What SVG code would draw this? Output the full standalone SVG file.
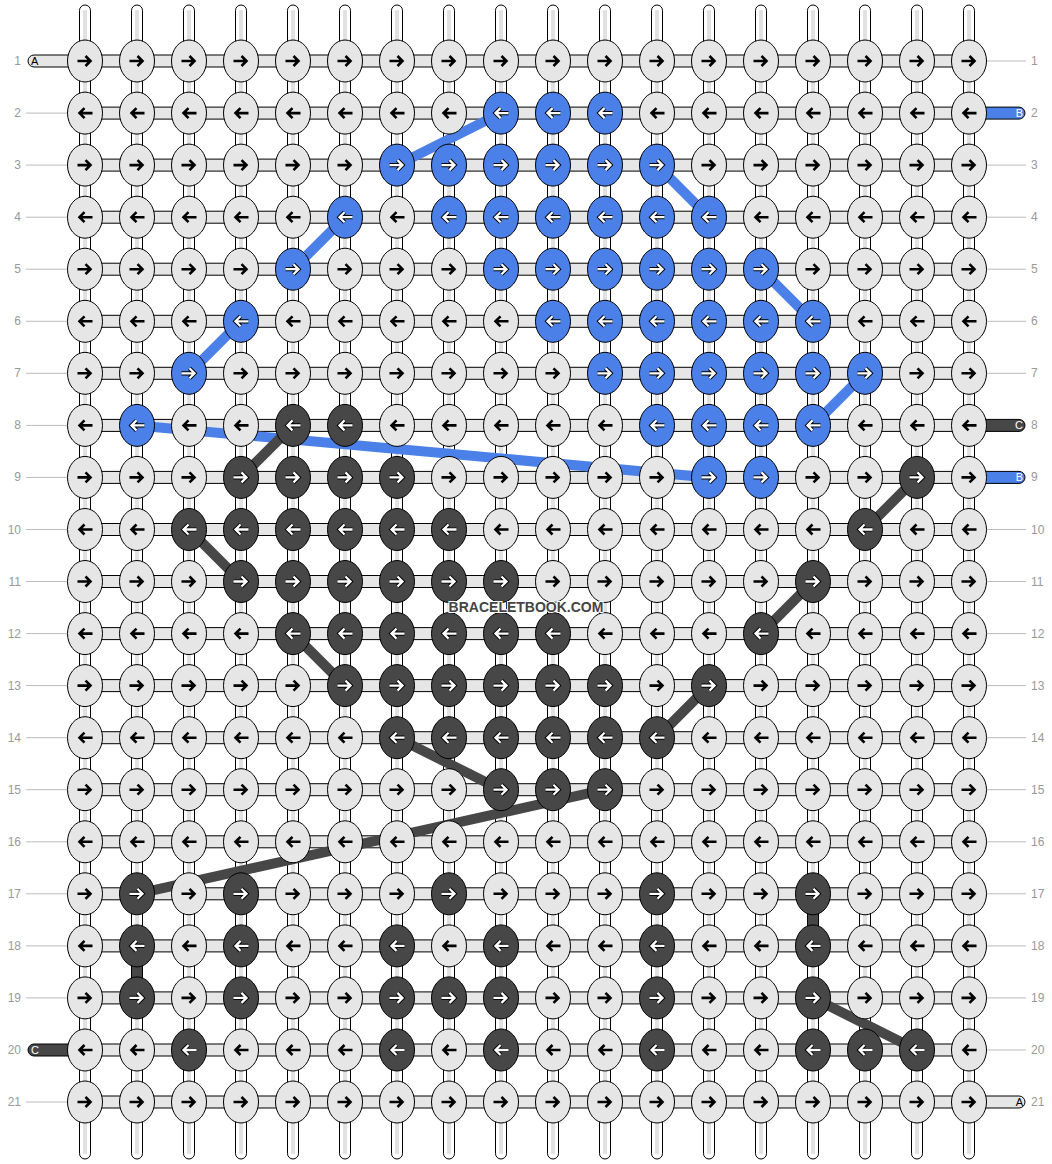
<svg xmlns="http://www.w3.org/2000/svg" xmlns:xlink="http://www.w3.org/1999/xlink" width="1052" height="1164" viewBox="0 0 1052 1164">
<style>
.vs{fill:#fff;stroke:#000;stroke-width:1}
.vc{stroke:#c4c4c4;stroke-width:1;fill:none}
.hs{fill:#e6e6e6;stroke:#000;stroke-width:1}
.gl{stroke:#bbb;stroke-width:1}
.lb{font-family:"Liberation Sans",Arial,sans-serif;font-size:12px;fill:#999}
.tg{fill:#e6e6e6;stroke:#000;stroke-width:1}
.tb{fill:#4a80e8;stroke:#000;stroke-width:1}
.td{fill:#474747;stroke:#000;stroke-width:1}
.tt{font-family:"Liberation Sans",Arial,sans-serif;font-size:11px}
.L{fill:#e6e6e6;stroke:#000;stroke-width:1}
.B{fill:#4a80e8;stroke:#000;stroke-width:1}
.D{fill:#474747;stroke:#000;stroke-width:1}
.ak{fill:none;stroke:#000;stroke-width:2.6}
.ao{fill:none;stroke:#000;stroke-width:4.2}
.aw{fill:none;stroke:#fff;stroke-width:2.3}
.thb{stroke:#4a80e8;stroke-width:10;fill:none}
.thd{stroke:#474747;stroke-width:10;fill:none}
.wm{font-family:"Liberation Sans",Arial,sans-serif;font-size:14px;font-weight:bold;fill:#444;stroke:#fff;stroke-width:2;paint-order:stroke}
</style>
<defs>
<path id="r" class="ak" d="M-7.5,0H5.5M0.5,-5L5.5,0L0.5,5"/>
<path id="l" class="ak" d="M7.5,0H-5.5M-0.5,-5L-5.5,0L-0.5,5"/>
<g id="rw"><path class="ao" d="M-7.5,0H5.5M0.5,-5L5.5,0L0.5,5"/><path class="aw" d="M-7.5,0H5.5M0.5,-5L5.5,0L0.5,5"/></g>
<g id="lw"><path class="ao" d="M7.5,0H-5.5M-0.5,-5L-5.5,0L-0.5,5"/><path class="aw" d="M7.5,0H-5.5M-0.5,-5L-5.5,0L-0.5,5"/></g>
</defs>
<rect width="1052" height="1164" fill="#fff"/>
<g id="strings">
<g id="vertical">
<rect class="vs" x="79.5" y="5" width="11" height="1154" rx="5.5"/>
<rect class="vs" x="131.5" y="5" width="11" height="1154" rx="5.5"/>
<rect class="vs" x="183.5" y="5" width="11" height="1154" rx="5.5"/>
<rect class="vs" x="235.5" y="5" width="11" height="1154" rx="5.5"/>
<rect class="vs" x="287.5" y="5" width="11" height="1154" rx="5.5"/>
<rect class="vs" x="339.5" y="5" width="11" height="1154" rx="5.5"/>
<rect class="vs" x="391.5" y="5" width="11" height="1154" rx="5.5"/>
<rect class="vs" x="443.5" y="5" width="11" height="1154" rx="5.5"/>
<rect class="vs" x="495.5" y="5" width="11" height="1154" rx="5.5"/>
<rect class="vs" x="547.5" y="5" width="11" height="1154" rx="5.5"/>
<rect class="vs" x="599.5" y="5" width="11" height="1154" rx="5.5"/>
<rect class="vs" x="651.5" y="5" width="11" height="1154" rx="5.5"/>
<rect class="vs" x="703.5" y="5" width="11" height="1154" rx="5.5"/>
<rect class="vs" x="755.5" y="5" width="11" height="1154" rx="5.5"/>
<rect class="vs" x="807.5" y="5" width="11" height="1154" rx="5.5"/>
<rect class="vs" x="859.5" y="5" width="11" height="1154" rx="5.5"/>
<rect class="vs" x="911.5" y="5" width="11" height="1154" rx="5.5"/>
<rect class="vs" x="963.5" y="5" width="11" height="1154" rx="5.5"/>
<path class="vc" d="M84,10V1154M86,10V1154M136,10V1154M138,10V1154M188,10V1154M190,10V1154M240,10V1154M242,10V1154M292,10V1154M294,10V1154M344,10V1154M346,10V1154M396,10V1154M398,10V1154M448,10V1154M450,10V1154M500,10V1154M502,10V1154M552,10V1154M554,10V1154M604,10V1154M606,10V1154M656,10V1154M658,10V1154M708,10V1154M710,10V1154M760,10V1154M762,10V1154M812,10V1154M814,10V1154M864,10V1154M866,10V1154M916,10V1154M918,10V1154M968,10V1154M970,10V1154"/>
</g>
<g id="guides">
<path class="gl" d="M26,113.1H67M26,165.1H67M26,217.2H67M26,269.2H67M26,321.3H67M26,373.3H67M26,425.4H67M26,477.4H67M26,529.5H67M26,581.5H67M26,633.6H67M26,685.6H67M26,737.7H67M26,789.7H67M26,841.8H67M26,893.8H67M26,945.9H67M26,997.9H67M26,1102H67"/>
<path class="gl" d="M987,61H1026M987,165.1H1026M987,217.2H1026M987,269.2H1026M987,321.3H1026M987,373.3H1026M987,529.5H1026M987,581.5H1026M987,633.6H1026M987,685.6H1026M987,737.7H1026M987,789.7H1026M987,841.8H1026M987,893.8H1026M987,945.9H1026M987,997.9H1026M987,1050H1026"/>
</g>
<g id="horizontal">
<rect class="hs" x="85" y="55" width="884" height="12"/>
<rect class="hs" x="85" y="107.1" width="884" height="12"/>
<rect class="hs" x="85" y="159.1" width="884" height="12"/>
<rect class="hs" x="85" y="211.2" width="884" height="12"/>
<rect class="hs" x="85" y="263.2" width="884" height="12"/>
<rect class="hs" x="85" y="315.3" width="884" height="12"/>
<rect class="hs" x="85" y="367.3" width="884" height="12"/>
<rect class="hs" x="85" y="419.4" width="884" height="12"/>
<rect class="hs" x="85" y="471.4" width="884" height="12"/>
<rect class="hs" x="85" y="523.5" width="884" height="12"/>
<rect class="hs" x="85" y="575.5" width="884" height="12"/>
<rect class="hs" x="85" y="627.6" width="884" height="12"/>
<rect class="hs" x="85" y="679.6" width="884" height="12"/>
<rect class="hs" x="85" y="731.7" width="884" height="12"/>
<rect class="hs" x="85" y="783.7" width="884" height="12"/>
<rect class="hs" x="85" y="835.8" width="884" height="12"/>
<rect class="hs" x="85" y="887.8" width="884" height="12"/>
<rect class="hs" x="85" y="939.9" width="884" height="12"/>
<rect class="hs" x="85" y="991.9" width="884" height="12"/>
<rect class="hs" x="85" y="1044" width="884" height="12"/>
<rect class="hs" x="85" y="1096" width="884" height="12"/>
</g>
<g id="ends">
<g id="endA1"><rect class="tg" x="28" y="55" width="50" height="12" rx="6"/><text class="tt" x="31" y="65" fill="#000">A</text></g>
<g id="endC20"><rect class="td" x="28" y="1044" width="50" height="12" rx="6"/><text class="tt" x="31" y="1054" fill="#fff">C</text></g>
<g id="endB2"><rect class="tb" x="975" y="107.1" width="50" height="12" rx="6"/><text class="tt" x="1023" y="117" fill="#fff" text-anchor="end">B</text></g>
<g id="endC8"><rect class="td" x="975" y="419.4" width="50" height="12" rx="6"/><text class="tt" x="1023" y="429.4" fill="#fff" text-anchor="end">C</text></g>
<g id="endB9"><rect class="tb" x="975" y="471.4" width="50" height="12" rx="6"/><text class="tt" x="1023" y="481.4" fill="#fff" text-anchor="end">B</text></g>
<g id="endA21"><rect class="tg" x="975" y="1096" width="50" height="12" rx="6"/><text class="tt" x="1023" y="1106" fill="#000" text-anchor="end">A</text></g>
</g>
</g>
<g id="connectors">
<path class="thb" d="M501,113.1L397,165.1M657,165.1L709,217.2M345,217.2L293,269.2M761,269.2L813,321.3M241,321.3L189,373.3M865,373.3L813,425.4M137,425.4L709,477.4"/>
<path class="thd" d="M293,425.4L241,477.4M917,477.4L865,529.5M189,529.5L241,581.5M813,581.5L761,633.6M293,633.6L345,685.6M709,685.6L657,737.7M397,737.7L501,789.7M605,789.7L137,893.8M137,945.9L137,997.9M813,893.8L813,945.9M813,997.9L917,1050"/>
</g>
<g id="labels">
<text class="lb" x="21" y="65" text-anchor="end">1</text>
<text class="lb" x="21" y="117.1" text-anchor="end">2</text>
<text class="lb" x="21" y="169.1" text-anchor="end">3</text>
<text class="lb" x="21" y="221.2" text-anchor="end">4</text>
<text class="lb" x="21" y="273.2" text-anchor="end">5</text>
<text class="lb" x="21" y="325.3" text-anchor="end">6</text>
<text class="lb" x="21" y="377.3" text-anchor="end">7</text>
<text class="lb" x="21" y="429.4" text-anchor="end">8</text>
<text class="lb" x="21" y="481.4" text-anchor="end">9</text>
<text class="lb" x="21" y="533.5" text-anchor="end">10</text>
<text class="lb" x="21" y="585.5" text-anchor="end">11</text>
<text class="lb" x="21" y="637.6" text-anchor="end">12</text>
<text class="lb" x="21" y="689.6" text-anchor="end">13</text>
<text class="lb" x="21" y="741.7" text-anchor="end">14</text>
<text class="lb" x="21" y="793.7" text-anchor="end">15</text>
<text class="lb" x="21" y="845.8" text-anchor="end">16</text>
<text class="lb" x="21" y="897.8" text-anchor="end">17</text>
<text class="lb" x="21" y="949.9" text-anchor="end">18</text>
<text class="lb" x="21" y="1001.9" text-anchor="end">19</text>
<text class="lb" x="21" y="1054" text-anchor="end">20</text>
<text class="lb" x="21" y="1106" text-anchor="end">21</text>
<text class="lb" x="1031" y="65">1</text>
<text class="lb" x="1031" y="117.1">2</text>
<text class="lb" x="1031" y="169.1">3</text>
<text class="lb" x="1031" y="221.2">4</text>
<text class="lb" x="1031" y="273.2">5</text>
<text class="lb" x="1031" y="325.3">6</text>
<text class="lb" x="1031" y="377.3">7</text>
<text class="lb" x="1031" y="429.4">8</text>
<text class="lb" x="1031" y="481.4">9</text>
<text class="lb" x="1031" y="533.5">10</text>
<text class="lb" x="1031" y="585.5">11</text>
<text class="lb" x="1031" y="637.6">12</text>
<text class="lb" x="1031" y="689.6">13</text>
<text class="lb" x="1031" y="741.7">14</text>
<text class="lb" x="1031" y="793.7">15</text>
<text class="lb" x="1031" y="845.8">16</text>
<text class="lb" x="1031" y="897.8">17</text>
<text class="lb" x="1031" y="949.9">18</text>
<text class="lb" x="1031" y="1001.9">19</text>
<text class="lb" x="1031" y="1054">20</text>
<text class="lb" x="1031" y="1106">21</text>
</g>
<g id="nodes">
<g id="row1" transform="translate(0,61)">
<g id="n1-1"><ellipse class="L" cx="85" rx="17.5" ry="21"/><use href="#r" x="85"/></g>
<g id="n1-2"><ellipse class="L" cx="137" rx="17.5" ry="21"/><use href="#r" x="137"/></g>
<g id="n1-3"><ellipse class="L" cx="189" rx="17.5" ry="21"/><use href="#r" x="189"/></g>
<g id="n1-4"><ellipse class="L" cx="241" rx="17.5" ry="21"/><use href="#r" x="241"/></g>
<g id="n1-5"><ellipse class="L" cx="293" rx="17.5" ry="21"/><use href="#r" x="293"/></g>
<g id="n1-6"><ellipse class="L" cx="345" rx="17.5" ry="21"/><use href="#r" x="345"/></g>
<g id="n1-7"><ellipse class="L" cx="397" rx="17.5" ry="21"/><use href="#r" x="397"/></g>
<g id="n1-8"><ellipse class="L" cx="449" rx="17.5" ry="21"/><use href="#r" x="449"/></g>
<g id="n1-9"><ellipse class="L" cx="501" rx="17.5" ry="21"/><use href="#r" x="501"/></g>
<g id="n1-10"><ellipse class="L" cx="553" rx="17.5" ry="21"/><use href="#r" x="553"/></g>
<g id="n1-11"><ellipse class="L" cx="605" rx="17.5" ry="21"/><use href="#r" x="605"/></g>
<g id="n1-12"><ellipse class="L" cx="657" rx="17.5" ry="21"/><use href="#r" x="657"/></g>
<g id="n1-13"><ellipse class="L" cx="709" rx="17.5" ry="21"/><use href="#r" x="709"/></g>
<g id="n1-14"><ellipse class="L" cx="761" rx="17.5" ry="21"/><use href="#r" x="761"/></g>
<g id="n1-15"><ellipse class="L" cx="813" rx="17.5" ry="21"/><use href="#r" x="813"/></g>
<g id="n1-16"><ellipse class="L" cx="865" rx="17.5" ry="21"/><use href="#r" x="865"/></g>
<g id="n1-17"><ellipse class="L" cx="917" rx="17.5" ry="21"/><use href="#r" x="917"/></g>
<g id="n1-18"><ellipse class="L" cx="969" rx="17.5" ry="21"/><use href="#r" x="969"/></g>
</g>
<g id="row2" transform="translate(0,113.1)">
<g id="n2-1"><ellipse class="L" cx="85" rx="17.5" ry="21"/><use href="#l" x="85"/></g>
<g id="n2-2"><ellipse class="L" cx="137" rx="17.5" ry="21"/><use href="#l" x="137"/></g>
<g id="n2-3"><ellipse class="L" cx="189" rx="17.5" ry="21"/><use href="#l" x="189"/></g>
<g id="n2-4"><ellipse class="L" cx="241" rx="17.5" ry="21"/><use href="#l" x="241"/></g>
<g id="n2-5"><ellipse class="L" cx="293" rx="17.5" ry="21"/><use href="#l" x="293"/></g>
<g id="n2-6"><ellipse class="L" cx="345" rx="17.5" ry="21"/><use href="#l" x="345"/></g>
<g id="n2-7"><ellipse class="L" cx="397" rx="17.5" ry="21"/><use href="#l" x="397"/></g>
<g id="n2-8"><ellipse class="L" cx="449" rx="17.5" ry="21"/><use href="#l" x="449"/></g>
<g id="n2-9"><ellipse class="B" cx="501" rx="17.5" ry="21"/><use href="#lw" x="501"/></g>
<g id="n2-10"><ellipse class="B" cx="553" rx="17.5" ry="21"/><use href="#lw" x="553"/></g>
<g id="n2-11"><ellipse class="B" cx="605" rx="17.5" ry="21"/><use href="#lw" x="605"/></g>
<g id="n2-12"><ellipse class="L" cx="657" rx="17.5" ry="21"/><use href="#l" x="657"/></g>
<g id="n2-13"><ellipse class="L" cx="709" rx="17.5" ry="21"/><use href="#l" x="709"/></g>
<g id="n2-14"><ellipse class="L" cx="761" rx="17.5" ry="21"/><use href="#l" x="761"/></g>
<g id="n2-15"><ellipse class="L" cx="813" rx="17.5" ry="21"/><use href="#l" x="813"/></g>
<g id="n2-16"><ellipse class="L" cx="865" rx="17.5" ry="21"/><use href="#l" x="865"/></g>
<g id="n2-17"><ellipse class="L" cx="917" rx="17.5" ry="21"/><use href="#l" x="917"/></g>
<g id="n2-18"><ellipse class="L" cx="969" rx="17.5" ry="21"/><use href="#l" x="969"/></g>
</g>
<g id="row3" transform="translate(0,165.1)">
<g id="n3-1"><ellipse class="L" cx="85" rx="17.5" ry="21"/><use href="#r" x="85"/></g>
<g id="n3-2"><ellipse class="L" cx="137" rx="17.5" ry="21"/><use href="#r" x="137"/></g>
<g id="n3-3"><ellipse class="L" cx="189" rx="17.5" ry="21"/><use href="#r" x="189"/></g>
<g id="n3-4"><ellipse class="L" cx="241" rx="17.5" ry="21"/><use href="#r" x="241"/></g>
<g id="n3-5"><ellipse class="L" cx="293" rx="17.5" ry="21"/><use href="#r" x="293"/></g>
<g id="n3-6"><ellipse class="L" cx="345" rx="17.5" ry="21"/><use href="#r" x="345"/></g>
<g id="n3-7"><ellipse class="B" cx="397" rx="17.5" ry="21"/><use href="#rw" x="397"/></g>
<g id="n3-8"><ellipse class="B" cx="449" rx="17.5" ry="21"/><use href="#rw" x="449"/></g>
<g id="n3-9"><ellipse class="B" cx="501" rx="17.5" ry="21"/><use href="#rw" x="501"/></g>
<g id="n3-10"><ellipse class="B" cx="553" rx="17.5" ry="21"/><use href="#rw" x="553"/></g>
<g id="n3-11"><ellipse class="B" cx="605" rx="17.5" ry="21"/><use href="#rw" x="605"/></g>
<g id="n3-12"><ellipse class="B" cx="657" rx="17.5" ry="21"/><use href="#rw" x="657"/></g>
<g id="n3-13"><ellipse class="L" cx="709" rx="17.5" ry="21"/><use href="#r" x="709"/></g>
<g id="n3-14"><ellipse class="L" cx="761" rx="17.5" ry="21"/><use href="#r" x="761"/></g>
<g id="n3-15"><ellipse class="L" cx="813" rx="17.5" ry="21"/><use href="#r" x="813"/></g>
<g id="n3-16"><ellipse class="L" cx="865" rx="17.5" ry="21"/><use href="#r" x="865"/></g>
<g id="n3-17"><ellipse class="L" cx="917" rx="17.5" ry="21"/><use href="#r" x="917"/></g>
<g id="n3-18"><ellipse class="L" cx="969" rx="17.5" ry="21"/><use href="#r" x="969"/></g>
</g>
<g id="row4" transform="translate(0,217.2)">
<g id="n4-1"><ellipse class="L" cx="85" rx="17.5" ry="21"/><use href="#l" x="85"/></g>
<g id="n4-2"><ellipse class="L" cx="137" rx="17.5" ry="21"/><use href="#l" x="137"/></g>
<g id="n4-3"><ellipse class="L" cx="189" rx="17.5" ry="21"/><use href="#l" x="189"/></g>
<g id="n4-4"><ellipse class="L" cx="241" rx="17.5" ry="21"/><use href="#l" x="241"/></g>
<g id="n4-5"><ellipse class="L" cx="293" rx="17.5" ry="21"/><use href="#l" x="293"/></g>
<g id="n4-6"><ellipse class="B" cx="345" rx="17.5" ry="21"/><use href="#lw" x="345"/></g>
<g id="n4-7"><ellipse class="L" cx="397" rx="17.5" ry="21"/><use href="#l" x="397"/></g>
<g id="n4-8"><ellipse class="B" cx="449" rx="17.5" ry="21"/><use href="#lw" x="449"/></g>
<g id="n4-9"><ellipse class="B" cx="501" rx="17.5" ry="21"/><use href="#lw" x="501"/></g>
<g id="n4-10"><ellipse class="B" cx="553" rx="17.5" ry="21"/><use href="#lw" x="553"/></g>
<g id="n4-11"><ellipse class="B" cx="605" rx="17.5" ry="21"/><use href="#lw" x="605"/></g>
<g id="n4-12"><ellipse class="B" cx="657" rx="17.5" ry="21"/><use href="#lw" x="657"/></g>
<g id="n4-13"><ellipse class="B" cx="709" rx="17.5" ry="21"/><use href="#lw" x="709"/></g>
<g id="n4-14"><ellipse class="L" cx="761" rx="17.5" ry="21"/><use href="#l" x="761"/></g>
<g id="n4-15"><ellipse class="L" cx="813" rx="17.5" ry="21"/><use href="#l" x="813"/></g>
<g id="n4-16"><ellipse class="L" cx="865" rx="17.5" ry="21"/><use href="#l" x="865"/></g>
<g id="n4-17"><ellipse class="L" cx="917" rx="17.5" ry="21"/><use href="#l" x="917"/></g>
<g id="n4-18"><ellipse class="L" cx="969" rx="17.5" ry="21"/><use href="#l" x="969"/></g>
</g>
<g id="row5" transform="translate(0,269.2)">
<g id="n5-1"><ellipse class="L" cx="85" rx="17.5" ry="21"/><use href="#r" x="85"/></g>
<g id="n5-2"><ellipse class="L" cx="137" rx="17.5" ry="21"/><use href="#r" x="137"/></g>
<g id="n5-3"><ellipse class="L" cx="189" rx="17.5" ry="21"/><use href="#r" x="189"/></g>
<g id="n5-4"><ellipse class="L" cx="241" rx="17.5" ry="21"/><use href="#r" x="241"/></g>
<g id="n5-5"><ellipse class="B" cx="293" rx="17.5" ry="21"/><use href="#rw" x="293"/></g>
<g id="n5-6"><ellipse class="L" cx="345" rx="17.5" ry="21"/><use href="#r" x="345"/></g>
<g id="n5-7"><ellipse class="L" cx="397" rx="17.5" ry="21"/><use href="#r" x="397"/></g>
<g id="n5-8"><ellipse class="L" cx="449" rx="17.5" ry="21"/><use href="#r" x="449"/></g>
<g id="n5-9"><ellipse class="B" cx="501" rx="17.5" ry="21"/><use href="#rw" x="501"/></g>
<g id="n5-10"><ellipse class="B" cx="553" rx="17.5" ry="21"/><use href="#rw" x="553"/></g>
<g id="n5-11"><ellipse class="B" cx="605" rx="17.5" ry="21"/><use href="#rw" x="605"/></g>
<g id="n5-12"><ellipse class="B" cx="657" rx="17.5" ry="21"/><use href="#rw" x="657"/></g>
<g id="n5-13"><ellipse class="B" cx="709" rx="17.5" ry="21"/><use href="#rw" x="709"/></g>
<g id="n5-14"><ellipse class="B" cx="761" rx="17.5" ry="21"/><use href="#rw" x="761"/></g>
<g id="n5-15"><ellipse class="L" cx="813" rx="17.5" ry="21"/><use href="#r" x="813"/></g>
<g id="n5-16"><ellipse class="L" cx="865" rx="17.5" ry="21"/><use href="#r" x="865"/></g>
<g id="n5-17"><ellipse class="L" cx="917" rx="17.5" ry="21"/><use href="#r" x="917"/></g>
<g id="n5-18"><ellipse class="L" cx="969" rx="17.5" ry="21"/><use href="#r" x="969"/></g>
</g>
<g id="row6" transform="translate(0,321.3)">
<g id="n6-1"><ellipse class="L" cx="85" rx="17.5" ry="21"/><use href="#l" x="85"/></g>
<g id="n6-2"><ellipse class="L" cx="137" rx="17.5" ry="21"/><use href="#l" x="137"/></g>
<g id="n6-3"><ellipse class="L" cx="189" rx="17.5" ry="21"/><use href="#l" x="189"/></g>
<g id="n6-4"><ellipse class="B" cx="241" rx="17.5" ry="21"/><use href="#lw" x="241"/></g>
<g id="n6-5"><ellipse class="L" cx="293" rx="17.5" ry="21"/><use href="#l" x="293"/></g>
<g id="n6-6"><ellipse class="L" cx="345" rx="17.5" ry="21"/><use href="#l" x="345"/></g>
<g id="n6-7"><ellipse class="L" cx="397" rx="17.5" ry="21"/><use href="#l" x="397"/></g>
<g id="n6-8"><ellipse class="L" cx="449" rx="17.5" ry="21"/><use href="#l" x="449"/></g>
<g id="n6-9"><ellipse class="L" cx="501" rx="17.5" ry="21"/><use href="#l" x="501"/></g>
<g id="n6-10"><ellipse class="B" cx="553" rx="17.5" ry="21"/><use href="#lw" x="553"/></g>
<g id="n6-11"><ellipse class="B" cx="605" rx="17.5" ry="21"/><use href="#lw" x="605"/></g>
<g id="n6-12"><ellipse class="B" cx="657" rx="17.5" ry="21"/><use href="#lw" x="657"/></g>
<g id="n6-13"><ellipse class="B" cx="709" rx="17.5" ry="21"/><use href="#lw" x="709"/></g>
<g id="n6-14"><ellipse class="B" cx="761" rx="17.5" ry="21"/><use href="#lw" x="761"/></g>
<g id="n6-15"><ellipse class="B" cx="813" rx="17.5" ry="21"/><use href="#lw" x="813"/></g>
<g id="n6-16"><ellipse class="L" cx="865" rx="17.5" ry="21"/><use href="#l" x="865"/></g>
<g id="n6-17"><ellipse class="L" cx="917" rx="17.5" ry="21"/><use href="#l" x="917"/></g>
<g id="n6-18"><ellipse class="L" cx="969" rx="17.5" ry="21"/><use href="#l" x="969"/></g>
</g>
<g id="row7" transform="translate(0,373.3)">
<g id="n7-1"><ellipse class="L" cx="85" rx="17.5" ry="21"/><use href="#r" x="85"/></g>
<g id="n7-2"><ellipse class="L" cx="137" rx="17.5" ry="21"/><use href="#r" x="137"/></g>
<g id="n7-3"><ellipse class="B" cx="189" rx="17.5" ry="21"/><use href="#rw" x="189"/></g>
<g id="n7-4"><ellipse class="L" cx="241" rx="17.5" ry="21"/><use href="#r" x="241"/></g>
<g id="n7-5"><ellipse class="L" cx="293" rx="17.5" ry="21"/><use href="#r" x="293"/></g>
<g id="n7-6"><ellipse class="L" cx="345" rx="17.5" ry="21"/><use href="#r" x="345"/></g>
<g id="n7-7"><ellipse class="L" cx="397" rx="17.5" ry="21"/><use href="#r" x="397"/></g>
<g id="n7-8"><ellipse class="L" cx="449" rx="17.5" ry="21"/><use href="#r" x="449"/></g>
<g id="n7-9"><ellipse class="L" cx="501" rx="17.5" ry="21"/><use href="#r" x="501"/></g>
<g id="n7-10"><ellipse class="L" cx="553" rx="17.5" ry="21"/><use href="#r" x="553"/></g>
<g id="n7-11"><ellipse class="B" cx="605" rx="17.5" ry="21"/><use href="#rw" x="605"/></g>
<g id="n7-12"><ellipse class="B" cx="657" rx="17.5" ry="21"/><use href="#rw" x="657"/></g>
<g id="n7-13"><ellipse class="B" cx="709" rx="17.5" ry="21"/><use href="#rw" x="709"/></g>
<g id="n7-14"><ellipse class="B" cx="761" rx="17.5" ry="21"/><use href="#rw" x="761"/></g>
<g id="n7-15"><ellipse class="B" cx="813" rx="17.5" ry="21"/><use href="#rw" x="813"/></g>
<g id="n7-16"><ellipse class="B" cx="865" rx="17.5" ry="21"/><use href="#rw" x="865"/></g>
<g id="n7-17"><ellipse class="L" cx="917" rx="17.5" ry="21"/><use href="#r" x="917"/></g>
<g id="n7-18"><ellipse class="L" cx="969" rx="17.5" ry="21"/><use href="#r" x="969"/></g>
</g>
<g id="row8" transform="translate(0,425.4)">
<g id="n8-1"><ellipse class="L" cx="85" rx="17.5" ry="21"/><use href="#l" x="85"/></g>
<g id="n8-2"><ellipse class="B" cx="137" rx="17.5" ry="21"/><use href="#lw" x="137"/></g>
<g id="n8-3"><ellipse class="L" cx="189" rx="17.5" ry="21"/><use href="#l" x="189"/></g>
<g id="n8-4"><ellipse class="L" cx="241" rx="17.5" ry="21"/><use href="#l" x="241"/></g>
<g id="n8-5"><ellipse class="D" cx="293" rx="17.5" ry="21"/><use href="#lw" x="293"/></g>
<g id="n8-6"><ellipse class="D" cx="345" rx="17.5" ry="21"/><use href="#lw" x="345"/></g>
<g id="n8-7"><ellipse class="L" cx="397" rx="17.5" ry="21"/><use href="#l" x="397"/></g>
<g id="n8-8"><ellipse class="L" cx="449" rx="17.5" ry="21"/><use href="#l" x="449"/></g>
<g id="n8-9"><ellipse class="L" cx="501" rx="17.5" ry="21"/><use href="#l" x="501"/></g>
<g id="n8-10"><ellipse class="L" cx="553" rx="17.5" ry="21"/><use href="#l" x="553"/></g>
<g id="n8-11"><ellipse class="L" cx="605" rx="17.5" ry="21"/><use href="#l" x="605"/></g>
<g id="n8-12"><ellipse class="B" cx="657" rx="17.5" ry="21"/><use href="#lw" x="657"/></g>
<g id="n8-13"><ellipse class="B" cx="709" rx="17.5" ry="21"/><use href="#lw" x="709"/></g>
<g id="n8-14"><ellipse class="B" cx="761" rx="17.5" ry="21"/><use href="#lw" x="761"/></g>
<g id="n8-15"><ellipse class="B" cx="813" rx="17.5" ry="21"/><use href="#lw" x="813"/></g>
<g id="n8-16"><ellipse class="L" cx="865" rx="17.5" ry="21"/><use href="#l" x="865"/></g>
<g id="n8-17"><ellipse class="L" cx="917" rx="17.5" ry="21"/><use href="#l" x="917"/></g>
<g id="n8-18"><ellipse class="L" cx="969" rx="17.5" ry="21"/><use href="#l" x="969"/></g>
</g>
<g id="row9" transform="translate(0,477.4)">
<g id="n9-1"><ellipse class="L" cx="85" rx="17.5" ry="21"/><use href="#r" x="85"/></g>
<g id="n9-2"><ellipse class="L" cx="137" rx="17.5" ry="21"/><use href="#r" x="137"/></g>
<g id="n9-3"><ellipse class="L" cx="189" rx="17.5" ry="21"/><use href="#r" x="189"/></g>
<g id="n9-4"><ellipse class="D" cx="241" rx="17.5" ry="21"/><use href="#rw" x="241"/></g>
<g id="n9-5"><ellipse class="D" cx="293" rx="17.5" ry="21"/><use href="#rw" x="293"/></g>
<g id="n9-6"><ellipse class="D" cx="345" rx="17.5" ry="21"/><use href="#rw" x="345"/></g>
<g id="n9-7"><ellipse class="D" cx="397" rx="17.5" ry="21"/><use href="#rw" x="397"/></g>
<g id="n9-8"><ellipse class="L" cx="449" rx="17.5" ry="21"/><use href="#r" x="449"/></g>
<g id="n9-9"><ellipse class="L" cx="501" rx="17.5" ry="21"/><use href="#r" x="501"/></g>
<g id="n9-10"><ellipse class="L" cx="553" rx="17.5" ry="21"/><use href="#r" x="553"/></g>
<g id="n9-11"><ellipse class="L" cx="605" rx="17.5" ry="21"/><use href="#r" x="605"/></g>
<g id="n9-12"><ellipse class="L" cx="657" rx="17.5" ry="21"/><use href="#r" x="657"/></g>
<g id="n9-13"><ellipse class="B" cx="709" rx="17.5" ry="21"/><use href="#rw" x="709"/></g>
<g id="n9-14"><ellipse class="B" cx="761" rx="17.5" ry="21"/><use href="#rw" x="761"/></g>
<g id="n9-15"><ellipse class="L" cx="813" rx="17.5" ry="21"/><use href="#r" x="813"/></g>
<g id="n9-16"><ellipse class="L" cx="865" rx="17.5" ry="21"/><use href="#r" x="865"/></g>
<g id="n9-17"><ellipse class="D" cx="917" rx="17.5" ry="21"/><use href="#rw" x="917"/></g>
<g id="n9-18"><ellipse class="L" cx="969" rx="17.5" ry="21"/><use href="#r" x="969"/></g>
</g>
<g id="row10" transform="translate(0,529.5)">
<g id="n10-1"><ellipse class="L" cx="85" rx="17.5" ry="21"/><use href="#l" x="85"/></g>
<g id="n10-2"><ellipse class="L" cx="137" rx="17.5" ry="21"/><use href="#l" x="137"/></g>
<g id="n10-3"><ellipse class="D" cx="189" rx="17.5" ry="21"/><use href="#lw" x="189"/></g>
<g id="n10-4"><ellipse class="D" cx="241" rx="17.5" ry="21"/><use href="#lw" x="241"/></g>
<g id="n10-5"><ellipse class="D" cx="293" rx="17.5" ry="21"/><use href="#lw" x="293"/></g>
<g id="n10-6"><ellipse class="D" cx="345" rx="17.5" ry="21"/><use href="#lw" x="345"/></g>
<g id="n10-7"><ellipse class="D" cx="397" rx="17.5" ry="21"/><use href="#lw" x="397"/></g>
<g id="n10-8"><ellipse class="D" cx="449" rx="17.5" ry="21"/><use href="#lw" x="449"/></g>
<g id="n10-9"><ellipse class="L" cx="501" rx="17.5" ry="21"/><use href="#l" x="501"/></g>
<g id="n10-10"><ellipse class="L" cx="553" rx="17.5" ry="21"/><use href="#l" x="553"/></g>
<g id="n10-11"><ellipse class="L" cx="605" rx="17.5" ry="21"/><use href="#l" x="605"/></g>
<g id="n10-12"><ellipse class="L" cx="657" rx="17.5" ry="21"/><use href="#l" x="657"/></g>
<g id="n10-13"><ellipse class="L" cx="709" rx="17.5" ry="21"/><use href="#l" x="709"/></g>
<g id="n10-14"><ellipse class="L" cx="761" rx="17.5" ry="21"/><use href="#l" x="761"/></g>
<g id="n10-15"><ellipse class="L" cx="813" rx="17.5" ry="21"/><use href="#l" x="813"/></g>
<g id="n10-16"><ellipse class="D" cx="865" rx="17.5" ry="21"/><use href="#lw" x="865"/></g>
<g id="n10-17"><ellipse class="L" cx="917" rx="17.5" ry="21"/><use href="#l" x="917"/></g>
<g id="n10-18"><ellipse class="L" cx="969" rx="17.5" ry="21"/><use href="#l" x="969"/></g>
</g>
<g id="row11" transform="translate(0,581.5)">
<g id="n11-1"><ellipse class="L" cx="85" rx="17.5" ry="21"/><use href="#r" x="85"/></g>
<g id="n11-2"><ellipse class="L" cx="137" rx="17.5" ry="21"/><use href="#r" x="137"/></g>
<g id="n11-3"><ellipse class="L" cx="189" rx="17.5" ry="21"/><use href="#r" x="189"/></g>
<g id="n11-4"><ellipse class="D" cx="241" rx="17.5" ry="21"/><use href="#rw" x="241"/></g>
<g id="n11-5"><ellipse class="D" cx="293" rx="17.5" ry="21"/><use href="#rw" x="293"/></g>
<g id="n11-6"><ellipse class="D" cx="345" rx="17.5" ry="21"/><use href="#rw" x="345"/></g>
<g id="n11-7"><ellipse class="D" cx="397" rx="17.5" ry="21"/><use href="#rw" x="397"/></g>
<g id="n11-8"><ellipse class="D" cx="449" rx="17.5" ry="21"/><use href="#rw" x="449"/></g>
<g id="n11-9"><ellipse class="D" cx="501" rx="17.5" ry="21"/><use href="#rw" x="501"/></g>
<g id="n11-10"><ellipse class="L" cx="553" rx="17.5" ry="21"/><use href="#r" x="553"/></g>
<g id="n11-11"><ellipse class="L" cx="605" rx="17.5" ry="21"/><use href="#r" x="605"/></g>
<g id="n11-12"><ellipse class="L" cx="657" rx="17.5" ry="21"/><use href="#r" x="657"/></g>
<g id="n11-13"><ellipse class="L" cx="709" rx="17.5" ry="21"/><use href="#r" x="709"/></g>
<g id="n11-14"><ellipse class="L" cx="761" rx="17.5" ry="21"/><use href="#r" x="761"/></g>
<g id="n11-15"><ellipse class="D" cx="813" rx="17.5" ry="21"/><use href="#rw" x="813"/></g>
<g id="n11-16"><ellipse class="L" cx="865" rx="17.5" ry="21"/><use href="#r" x="865"/></g>
<g id="n11-17"><ellipse class="L" cx="917" rx="17.5" ry="21"/><use href="#r" x="917"/></g>
<g id="n11-18"><ellipse class="L" cx="969" rx="17.5" ry="21"/><use href="#r" x="969"/></g>
</g>
<g id="row12" transform="translate(0,633.6)">
<g id="n12-1"><ellipse class="L" cx="85" rx="17.5" ry="21"/><use href="#l" x="85"/></g>
<g id="n12-2"><ellipse class="L" cx="137" rx="17.5" ry="21"/><use href="#l" x="137"/></g>
<g id="n12-3"><ellipse class="L" cx="189" rx="17.5" ry="21"/><use href="#l" x="189"/></g>
<g id="n12-4"><ellipse class="L" cx="241" rx="17.5" ry="21"/><use href="#l" x="241"/></g>
<g id="n12-5"><ellipse class="D" cx="293" rx="17.5" ry="21"/><use href="#lw" x="293"/></g>
<g id="n12-6"><ellipse class="D" cx="345" rx="17.5" ry="21"/><use href="#lw" x="345"/></g>
<g id="n12-7"><ellipse class="D" cx="397" rx="17.5" ry="21"/><use href="#lw" x="397"/></g>
<g id="n12-8"><ellipse class="D" cx="449" rx="17.5" ry="21"/><use href="#lw" x="449"/></g>
<g id="n12-9"><ellipse class="D" cx="501" rx="17.5" ry="21"/><use href="#lw" x="501"/></g>
<g id="n12-10"><ellipse class="D" cx="553" rx="17.5" ry="21"/><use href="#lw" x="553"/></g>
<g id="n12-11"><ellipse class="L" cx="605" rx="17.5" ry="21"/><use href="#l" x="605"/></g>
<g id="n12-12"><ellipse class="L" cx="657" rx="17.5" ry="21"/><use href="#l" x="657"/></g>
<g id="n12-13"><ellipse class="L" cx="709" rx="17.5" ry="21"/><use href="#l" x="709"/></g>
<g id="n12-14"><ellipse class="D" cx="761" rx="17.5" ry="21"/><use href="#lw" x="761"/></g>
<g id="n12-15"><ellipse class="L" cx="813" rx="17.5" ry="21"/><use href="#l" x="813"/></g>
<g id="n12-16"><ellipse class="L" cx="865" rx="17.5" ry="21"/><use href="#l" x="865"/></g>
<g id="n12-17"><ellipse class="L" cx="917" rx="17.5" ry="21"/><use href="#l" x="917"/></g>
<g id="n12-18"><ellipse class="L" cx="969" rx="17.5" ry="21"/><use href="#l" x="969"/></g>
</g>
<g id="row13" transform="translate(0,685.6)">
<g id="n13-1"><ellipse class="L" cx="85" rx="17.5" ry="21"/><use href="#r" x="85"/></g>
<g id="n13-2"><ellipse class="L" cx="137" rx="17.5" ry="21"/><use href="#r" x="137"/></g>
<g id="n13-3"><ellipse class="L" cx="189" rx="17.5" ry="21"/><use href="#r" x="189"/></g>
<g id="n13-4"><ellipse class="L" cx="241" rx="17.5" ry="21"/><use href="#r" x="241"/></g>
<g id="n13-5"><ellipse class="L" cx="293" rx="17.5" ry="21"/><use href="#r" x="293"/></g>
<g id="n13-6"><ellipse class="D" cx="345" rx="17.5" ry="21"/><use href="#rw" x="345"/></g>
<g id="n13-7"><ellipse class="D" cx="397" rx="17.5" ry="21"/><use href="#rw" x="397"/></g>
<g id="n13-8"><ellipse class="D" cx="449" rx="17.5" ry="21"/><use href="#rw" x="449"/></g>
<g id="n13-9"><ellipse class="D" cx="501" rx="17.5" ry="21"/><use href="#rw" x="501"/></g>
<g id="n13-10"><ellipse class="D" cx="553" rx="17.5" ry="21"/><use href="#rw" x="553"/></g>
<g id="n13-11"><ellipse class="D" cx="605" rx="17.5" ry="21"/><use href="#rw" x="605"/></g>
<g id="n13-12"><ellipse class="L" cx="657" rx="17.5" ry="21"/><use href="#r" x="657"/></g>
<g id="n13-13"><ellipse class="D" cx="709" rx="17.5" ry="21"/><use href="#rw" x="709"/></g>
<g id="n13-14"><ellipse class="L" cx="761" rx="17.5" ry="21"/><use href="#r" x="761"/></g>
<g id="n13-15"><ellipse class="L" cx="813" rx="17.5" ry="21"/><use href="#r" x="813"/></g>
<g id="n13-16"><ellipse class="L" cx="865" rx="17.5" ry="21"/><use href="#r" x="865"/></g>
<g id="n13-17"><ellipse class="L" cx="917" rx="17.5" ry="21"/><use href="#r" x="917"/></g>
<g id="n13-18"><ellipse class="L" cx="969" rx="17.5" ry="21"/><use href="#r" x="969"/></g>
</g>
<g id="row14" transform="translate(0,737.7)">
<g id="n14-1"><ellipse class="L" cx="85" rx="17.5" ry="21"/><use href="#l" x="85"/></g>
<g id="n14-2"><ellipse class="L" cx="137" rx="17.5" ry="21"/><use href="#l" x="137"/></g>
<g id="n14-3"><ellipse class="L" cx="189" rx="17.5" ry="21"/><use href="#l" x="189"/></g>
<g id="n14-4"><ellipse class="L" cx="241" rx="17.5" ry="21"/><use href="#l" x="241"/></g>
<g id="n14-5"><ellipse class="L" cx="293" rx="17.5" ry="21"/><use href="#l" x="293"/></g>
<g id="n14-6"><ellipse class="L" cx="345" rx="17.5" ry="21"/><use href="#l" x="345"/></g>
<g id="n14-7"><ellipse class="D" cx="397" rx="17.5" ry="21"/><use href="#lw" x="397"/></g>
<g id="n14-8"><ellipse class="D" cx="449" rx="17.5" ry="21"/><use href="#lw" x="449"/></g>
<g id="n14-9"><ellipse class="D" cx="501" rx="17.5" ry="21"/><use href="#lw" x="501"/></g>
<g id="n14-10"><ellipse class="D" cx="553" rx="17.5" ry="21"/><use href="#lw" x="553"/></g>
<g id="n14-11"><ellipse class="D" cx="605" rx="17.5" ry="21"/><use href="#lw" x="605"/></g>
<g id="n14-12"><ellipse class="D" cx="657" rx="17.5" ry="21"/><use href="#lw" x="657"/></g>
<g id="n14-13"><ellipse class="L" cx="709" rx="17.5" ry="21"/><use href="#l" x="709"/></g>
<g id="n14-14"><ellipse class="L" cx="761" rx="17.5" ry="21"/><use href="#l" x="761"/></g>
<g id="n14-15"><ellipse class="L" cx="813" rx="17.5" ry="21"/><use href="#l" x="813"/></g>
<g id="n14-16"><ellipse class="L" cx="865" rx="17.5" ry="21"/><use href="#l" x="865"/></g>
<g id="n14-17"><ellipse class="L" cx="917" rx="17.5" ry="21"/><use href="#l" x="917"/></g>
<g id="n14-18"><ellipse class="L" cx="969" rx="17.5" ry="21"/><use href="#l" x="969"/></g>
</g>
<g id="row15" transform="translate(0,789.7)">
<g id="n15-1"><ellipse class="L" cx="85" rx="17.5" ry="21"/><use href="#r" x="85"/></g>
<g id="n15-2"><ellipse class="L" cx="137" rx="17.5" ry="21"/><use href="#r" x="137"/></g>
<g id="n15-3"><ellipse class="L" cx="189" rx="17.5" ry="21"/><use href="#r" x="189"/></g>
<g id="n15-4"><ellipse class="L" cx="241" rx="17.5" ry="21"/><use href="#r" x="241"/></g>
<g id="n15-5"><ellipse class="L" cx="293" rx="17.5" ry="21"/><use href="#r" x="293"/></g>
<g id="n15-6"><ellipse class="L" cx="345" rx="17.5" ry="21"/><use href="#r" x="345"/></g>
<g id="n15-7"><ellipse class="L" cx="397" rx="17.5" ry="21"/><use href="#r" x="397"/></g>
<g id="n15-8"><ellipse class="L" cx="449" rx="17.5" ry="21"/><use href="#r" x="449"/></g>
<g id="n15-9"><ellipse class="D" cx="501" rx="17.5" ry="21"/><use href="#rw" x="501"/></g>
<g id="n15-10"><ellipse class="D" cx="553" rx="17.5" ry="21"/><use href="#rw" x="553"/></g>
<g id="n15-11"><ellipse class="D" cx="605" rx="17.5" ry="21"/><use href="#rw" x="605"/></g>
<g id="n15-12"><ellipse class="L" cx="657" rx="17.5" ry="21"/><use href="#r" x="657"/></g>
<g id="n15-13"><ellipse class="L" cx="709" rx="17.5" ry="21"/><use href="#r" x="709"/></g>
<g id="n15-14"><ellipse class="L" cx="761" rx="17.5" ry="21"/><use href="#r" x="761"/></g>
<g id="n15-15"><ellipse class="L" cx="813" rx="17.5" ry="21"/><use href="#r" x="813"/></g>
<g id="n15-16"><ellipse class="L" cx="865" rx="17.5" ry="21"/><use href="#r" x="865"/></g>
<g id="n15-17"><ellipse class="L" cx="917" rx="17.5" ry="21"/><use href="#r" x="917"/></g>
<g id="n15-18"><ellipse class="L" cx="969" rx="17.5" ry="21"/><use href="#r" x="969"/></g>
</g>
<g id="row16" transform="translate(0,841.8)">
<g id="n16-1"><ellipse class="L" cx="85" rx="17.5" ry="21"/><use href="#l" x="85"/></g>
<g id="n16-2"><ellipse class="L" cx="137" rx="17.5" ry="21"/><use href="#l" x="137"/></g>
<g id="n16-3"><ellipse class="L" cx="189" rx="17.5" ry="21"/><use href="#l" x="189"/></g>
<g id="n16-4"><ellipse class="L" cx="241" rx="17.5" ry="21"/><use href="#l" x="241"/></g>
<g id="n16-5"><ellipse class="L" cx="293" rx="17.5" ry="21"/><use href="#l" x="293"/></g>
<g id="n16-6"><ellipse class="L" cx="345" rx="17.5" ry="21"/><use href="#l" x="345"/></g>
<g id="n16-7"><ellipse class="L" cx="397" rx="17.5" ry="21"/><use href="#l" x="397"/></g>
<g id="n16-8"><ellipse class="L" cx="449" rx="17.5" ry="21"/><use href="#l" x="449"/></g>
<g id="n16-9"><ellipse class="L" cx="501" rx="17.5" ry="21"/><use href="#l" x="501"/></g>
<g id="n16-10"><ellipse class="L" cx="553" rx="17.5" ry="21"/><use href="#l" x="553"/></g>
<g id="n16-11"><ellipse class="L" cx="605" rx="17.5" ry="21"/><use href="#l" x="605"/></g>
<g id="n16-12"><ellipse class="L" cx="657" rx="17.5" ry="21"/><use href="#l" x="657"/></g>
<g id="n16-13"><ellipse class="L" cx="709" rx="17.5" ry="21"/><use href="#l" x="709"/></g>
<g id="n16-14"><ellipse class="L" cx="761" rx="17.5" ry="21"/><use href="#l" x="761"/></g>
<g id="n16-15"><ellipse class="L" cx="813" rx="17.5" ry="21"/><use href="#l" x="813"/></g>
<g id="n16-16"><ellipse class="L" cx="865" rx="17.5" ry="21"/><use href="#l" x="865"/></g>
<g id="n16-17"><ellipse class="L" cx="917" rx="17.5" ry="21"/><use href="#l" x="917"/></g>
<g id="n16-18"><ellipse class="L" cx="969" rx="17.5" ry="21"/><use href="#l" x="969"/></g>
</g>
<g id="row17" transform="translate(0,893.8)">
<g id="n17-1"><ellipse class="L" cx="85" rx="17.5" ry="21"/><use href="#r" x="85"/></g>
<g id="n17-2"><ellipse class="D" cx="137" rx="17.5" ry="21"/><use href="#rw" x="137"/></g>
<g id="n17-3"><ellipse class="L" cx="189" rx="17.5" ry="21"/><use href="#r" x="189"/></g>
<g id="n17-4"><ellipse class="D" cx="241" rx="17.5" ry="21"/><use href="#rw" x="241"/></g>
<g id="n17-5"><ellipse class="L" cx="293" rx="17.5" ry="21"/><use href="#r" x="293"/></g>
<g id="n17-6"><ellipse class="L" cx="345" rx="17.5" ry="21"/><use href="#r" x="345"/></g>
<g id="n17-7"><ellipse class="L" cx="397" rx="17.5" ry="21"/><use href="#r" x="397"/></g>
<g id="n17-8"><ellipse class="D" cx="449" rx="17.5" ry="21"/><use href="#rw" x="449"/></g>
<g id="n17-9"><ellipse class="L" cx="501" rx="17.5" ry="21"/><use href="#r" x="501"/></g>
<g id="n17-10"><ellipse class="L" cx="553" rx="17.5" ry="21"/><use href="#r" x="553"/></g>
<g id="n17-11"><ellipse class="L" cx="605" rx="17.5" ry="21"/><use href="#r" x="605"/></g>
<g id="n17-12"><ellipse class="D" cx="657" rx="17.5" ry="21"/><use href="#rw" x="657"/></g>
<g id="n17-13"><ellipse class="L" cx="709" rx="17.5" ry="21"/><use href="#r" x="709"/></g>
<g id="n17-14"><ellipse class="L" cx="761" rx="17.5" ry="21"/><use href="#r" x="761"/></g>
<g id="n17-15"><ellipse class="D" cx="813" rx="17.5" ry="21"/><use href="#rw" x="813"/></g>
<g id="n17-16"><ellipse class="L" cx="865" rx="17.5" ry="21"/><use href="#r" x="865"/></g>
<g id="n17-17"><ellipse class="L" cx="917" rx="17.5" ry="21"/><use href="#r" x="917"/></g>
<g id="n17-18"><ellipse class="L" cx="969" rx="17.5" ry="21"/><use href="#r" x="969"/></g>
</g>
<g id="row18" transform="translate(0,945.9)">
<g id="n18-1"><ellipse class="L" cx="85" rx="17.5" ry="21"/><use href="#l" x="85"/></g>
<g id="n18-2"><ellipse class="D" cx="137" rx="17.5" ry="21"/><use href="#lw" x="137"/></g>
<g id="n18-3"><ellipse class="L" cx="189" rx="17.5" ry="21"/><use href="#l" x="189"/></g>
<g id="n18-4"><ellipse class="D" cx="241" rx="17.5" ry="21"/><use href="#lw" x="241"/></g>
<g id="n18-5"><ellipse class="L" cx="293" rx="17.5" ry="21"/><use href="#l" x="293"/></g>
<g id="n18-6"><ellipse class="L" cx="345" rx="17.5" ry="21"/><use href="#l" x="345"/></g>
<g id="n18-7"><ellipse class="D" cx="397" rx="17.5" ry="21"/><use href="#lw" x="397"/></g>
<g id="n18-8"><ellipse class="L" cx="449" rx="17.5" ry="21"/><use href="#l" x="449"/></g>
<g id="n18-9"><ellipse class="D" cx="501" rx="17.5" ry="21"/><use href="#lw" x="501"/></g>
<g id="n18-10"><ellipse class="L" cx="553" rx="17.5" ry="21"/><use href="#l" x="553"/></g>
<g id="n18-11"><ellipse class="L" cx="605" rx="17.5" ry="21"/><use href="#l" x="605"/></g>
<g id="n18-12"><ellipse class="D" cx="657" rx="17.5" ry="21"/><use href="#lw" x="657"/></g>
<g id="n18-13"><ellipse class="L" cx="709" rx="17.5" ry="21"/><use href="#l" x="709"/></g>
<g id="n18-14"><ellipse class="L" cx="761" rx="17.5" ry="21"/><use href="#l" x="761"/></g>
<g id="n18-15"><ellipse class="D" cx="813" rx="17.5" ry="21"/><use href="#lw" x="813"/></g>
<g id="n18-16"><ellipse class="L" cx="865" rx="17.5" ry="21"/><use href="#l" x="865"/></g>
<g id="n18-17"><ellipse class="L" cx="917" rx="17.5" ry="21"/><use href="#l" x="917"/></g>
<g id="n18-18"><ellipse class="L" cx="969" rx="17.5" ry="21"/><use href="#l" x="969"/></g>
</g>
<g id="row19" transform="translate(0,997.9)">
<g id="n19-1"><ellipse class="L" cx="85" rx="17.5" ry="21"/><use href="#r" x="85"/></g>
<g id="n19-2"><ellipse class="D" cx="137" rx="17.5" ry="21"/><use href="#rw" x="137"/></g>
<g id="n19-3"><ellipse class="L" cx="189" rx="17.5" ry="21"/><use href="#r" x="189"/></g>
<g id="n19-4"><ellipse class="D" cx="241" rx="17.5" ry="21"/><use href="#rw" x="241"/></g>
<g id="n19-5"><ellipse class="L" cx="293" rx="17.5" ry="21"/><use href="#r" x="293"/></g>
<g id="n19-6"><ellipse class="L" cx="345" rx="17.5" ry="21"/><use href="#r" x="345"/></g>
<g id="n19-7"><ellipse class="D" cx="397" rx="17.5" ry="21"/><use href="#rw" x="397"/></g>
<g id="n19-8"><ellipse class="D" cx="449" rx="17.5" ry="21"/><use href="#rw" x="449"/></g>
<g id="n19-9"><ellipse class="D" cx="501" rx="17.5" ry="21"/><use href="#rw" x="501"/></g>
<g id="n19-10"><ellipse class="L" cx="553" rx="17.5" ry="21"/><use href="#r" x="553"/></g>
<g id="n19-11"><ellipse class="L" cx="605" rx="17.5" ry="21"/><use href="#r" x="605"/></g>
<g id="n19-12"><ellipse class="D" cx="657" rx="17.5" ry="21"/><use href="#rw" x="657"/></g>
<g id="n19-13"><ellipse class="L" cx="709" rx="17.5" ry="21"/><use href="#r" x="709"/></g>
<g id="n19-14"><ellipse class="L" cx="761" rx="17.5" ry="21"/><use href="#r" x="761"/></g>
<g id="n19-15"><ellipse class="D" cx="813" rx="17.5" ry="21"/><use href="#rw" x="813"/></g>
<g id="n19-16"><ellipse class="L" cx="865" rx="17.5" ry="21"/><use href="#r" x="865"/></g>
<g id="n19-17"><ellipse class="L" cx="917" rx="17.5" ry="21"/><use href="#r" x="917"/></g>
<g id="n19-18"><ellipse class="L" cx="969" rx="17.5" ry="21"/><use href="#r" x="969"/></g>
</g>
<g id="row20" transform="translate(0,1050)">
<g id="n20-1"><ellipse class="L" cx="85" rx="17.5" ry="21"/><use href="#l" x="85"/></g>
<g id="n20-2"><ellipse class="L" cx="137" rx="17.5" ry="21"/><use href="#l" x="137"/></g>
<g id="n20-3"><ellipse class="D" cx="189" rx="17.5" ry="21"/><use href="#lw" x="189"/></g>
<g id="n20-4"><ellipse class="L" cx="241" rx="17.5" ry="21"/><use href="#l" x="241"/></g>
<g id="n20-5"><ellipse class="L" cx="293" rx="17.5" ry="21"/><use href="#l" x="293"/></g>
<g id="n20-6"><ellipse class="L" cx="345" rx="17.5" ry="21"/><use href="#l" x="345"/></g>
<g id="n20-7"><ellipse class="D" cx="397" rx="17.5" ry="21"/><use href="#lw" x="397"/></g>
<g id="n20-8"><ellipse class="L" cx="449" rx="17.5" ry="21"/><use href="#l" x="449"/></g>
<g id="n20-9"><ellipse class="D" cx="501" rx="17.5" ry="21"/><use href="#lw" x="501"/></g>
<g id="n20-10"><ellipse class="L" cx="553" rx="17.5" ry="21"/><use href="#l" x="553"/></g>
<g id="n20-11"><ellipse class="L" cx="605" rx="17.5" ry="21"/><use href="#l" x="605"/></g>
<g id="n20-12"><ellipse class="D" cx="657" rx="17.5" ry="21"/><use href="#lw" x="657"/></g>
<g id="n20-13"><ellipse class="L" cx="709" rx="17.5" ry="21"/><use href="#l" x="709"/></g>
<g id="n20-14"><ellipse class="L" cx="761" rx="17.5" ry="21"/><use href="#l" x="761"/></g>
<g id="n20-15"><ellipse class="D" cx="813" rx="17.5" ry="21"/><use href="#lw" x="813"/></g>
<g id="n20-16"><ellipse class="D" cx="865" rx="17.5" ry="21"/><use href="#lw" x="865"/></g>
<g id="n20-17"><ellipse class="D" cx="917" rx="17.5" ry="21"/><use href="#lw" x="917"/></g>
<g id="n20-18"><ellipse class="L" cx="969" rx="17.5" ry="21"/><use href="#l" x="969"/></g>
</g>
<g id="row21" transform="translate(0,1102)">
<g id="n21-1"><ellipse class="L" cx="85" rx="17.5" ry="21"/><use href="#r" x="85"/></g>
<g id="n21-2"><ellipse class="L" cx="137" rx="17.5" ry="21"/><use href="#r" x="137"/></g>
<g id="n21-3"><ellipse class="L" cx="189" rx="17.5" ry="21"/><use href="#r" x="189"/></g>
<g id="n21-4"><ellipse class="L" cx="241" rx="17.5" ry="21"/><use href="#r" x="241"/></g>
<g id="n21-5"><ellipse class="L" cx="293" rx="17.5" ry="21"/><use href="#r" x="293"/></g>
<g id="n21-6"><ellipse class="L" cx="345" rx="17.5" ry="21"/><use href="#r" x="345"/></g>
<g id="n21-7"><ellipse class="L" cx="397" rx="17.5" ry="21"/><use href="#r" x="397"/></g>
<g id="n21-8"><ellipse class="L" cx="449" rx="17.5" ry="21"/><use href="#r" x="449"/></g>
<g id="n21-9"><ellipse class="L" cx="501" rx="17.5" ry="21"/><use href="#r" x="501"/></g>
<g id="n21-10"><ellipse class="L" cx="553" rx="17.5" ry="21"/><use href="#r" x="553"/></g>
<g id="n21-11"><ellipse class="L" cx="605" rx="17.5" ry="21"/><use href="#r" x="605"/></g>
<g id="n21-12"><ellipse class="L" cx="657" rx="17.5" ry="21"/><use href="#r" x="657"/></g>
<g id="n21-13"><ellipse class="L" cx="709" rx="17.5" ry="21"/><use href="#r" x="709"/></g>
<g id="n21-14"><ellipse class="L" cx="761" rx="17.5" ry="21"/><use href="#r" x="761"/></g>
<g id="n21-15"><ellipse class="L" cx="813" rx="17.5" ry="21"/><use href="#r" x="813"/></g>
<g id="n21-16"><ellipse class="L" cx="865" rx="17.5" ry="21"/><use href="#r" x="865"/></g>
<g id="n21-17"><ellipse class="L" cx="917" rx="17.5" ry="21"/><use href="#r" x="917"/></g>
<g id="n21-18"><ellipse class="L" cx="969" rx="17.5" ry="21"/><use href="#r" x="969"/></g>
</g>
</g>
<text id="watermark" class="wm" x="526" y="612" text-anchor="middle">BRACELETBOOK.COM</text>
</svg>
